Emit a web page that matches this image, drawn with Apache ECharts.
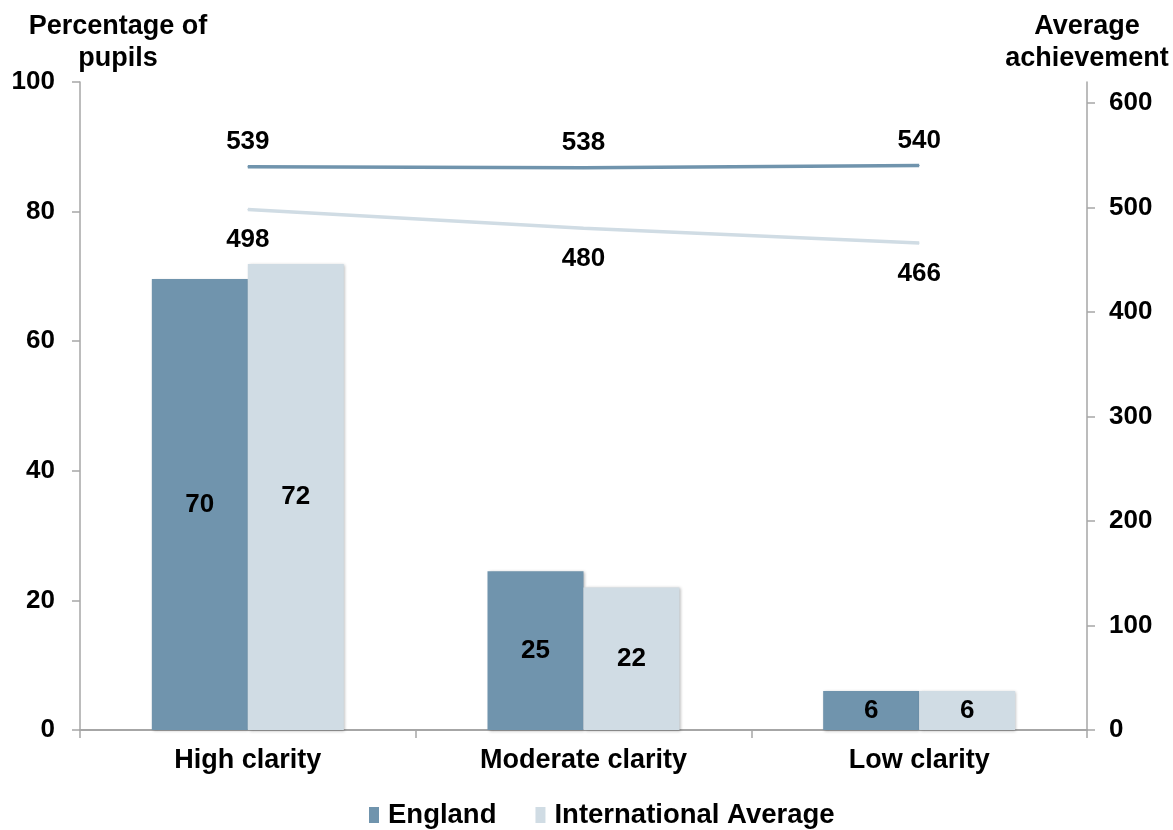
<!DOCTYPE html>
<html>
<head>
<meta charset="utf-8">
<script src="https://cdn.jsdelivr.net/npm/echarts@6/dist/echarts.min.js"></script>
<style>html,body{margin:0;padding:0;background:#fff}#c{width:1173px;height:830px}</style>
</head>
<body>
<div id="c"></div>
<script>
const categories = ['High clarity', 'Moderate clarity', 'Low clarity'];
const englandPct = [69.6, 24.5, 6];
const intlPct = [71.9, 22, 6];
const englandAch = [539, 538, 540];
const intlAch = [498, 480, 466];
const seriesNames = ['England', 'International Average'];

const FONT = '"Liberation Sans", Arial, sans-serif';
const axisGray = '#a6a6a6';
const cEng = '#7094ad';
const cInt = '#d0dce4';
const roundFmt = p => String(Math.round(p.value));

const chart = echarts.init(document.getElementById('c'));
chart.setOption({
  animation: false,
  textStyle: { fontFamily: FONT, fontWeight: 'bold', color: '#000' },
  grid: { left: 80, right: 86, top: 82, bottom: 100, containLabel: false, outerBoundsMode: 'none' },
  legend: {
    data: seriesNames,
    bottom: -4,
    left: 364,
    icon: 'rect',
    itemWidth: 10,
    itemHeight: 16,
    itemGap: 39,
    textStyle: { fontFamily: FONT, fontWeight: 'bold', fontSize: 27.5, color: '#000', padding: [0, 0, 0, 4] }
  },
  xAxis: {
    type: 'category',
    data: categories,
    axisLine: { lineStyle: { color: axisGray, width: 2 } },
    axisTick: { show: true, length: 8, lineStyle: { color: axisGray, width: 1.5 } },
    axisLabel: { fontFamily: FONT, fontWeight: 'bold', fontSize: 27, color: '#000', margin: 17 }
  },
  yAxis: [
    {
      type: 'value', min: 0, max: 100, interval: 20,
      name: 'Percentage of\npupils',
      nameLocation: 'end',
      nameGap: 7,
      nameMoveOverlap: false,
      nameTextStyle: { fontFamily: FONT, fontWeight: 'bold', fontSize: 27, color: '#000', lineHeight: 32, align: 'center', padding: [0, 0, 0, 76] },
      axisLine: { show: true, lineStyle: { color: axisGray, width: 1.5 } },
      axisTick: { show: true, length: 8, lineStyle: { color: axisGray, width: 1.5 } },
      splitLine: { show: false },
      axisLabel: { fontFamily: FONT, fontWeight: 'bold', fontSize: 26, color: '#000', margin: 25 }
    },
    {
      type: 'value', min: 0, max: 620, interval: 100,
      name: 'Average\nachievement',
      nameLocation: 'end',
      nameGap: 7,
      nameMoveOverlap: false,
      nameTextStyle: { fontFamily: FONT, fontWeight: 'bold', fontSize: 27, color: '#000', lineHeight: 32, align: 'center' },
      axisLine: { show: true, lineStyle: { color: axisGray, width: 1.5 } },
      axisTick: { show: true, length: 8, lineStyle: { color: axisGray, width: 1.5 } },
      splitLine: { show: false },
      axisLabel: { fontFamily: FONT, fontWeight: 'bold', fontSize: 26, color: '#000', margin: 22 }
    }
  ],
  series: [
    {
      name: seriesNames[0], type: 'bar', data: englandPct, barWidth: 96, barGap: '0%',
      itemStyle: { color: cEng, shadowBlur: 3, shadowColor: 'rgba(0,0,0,0.3)', shadowOffsetX: 1, shadowOffsetY: 1 },
      label: { show: true, position: 'inside', formatter: roundFmt, fontFamily: FONT, fontWeight: 'bold', fontSize: 26, color: '#000' }
    },
    {
      name: seriesNames[1], type: 'bar', data: intlPct, barWidth: 96,
      itemStyle: { color: cInt, shadowBlur: 3, shadowColor: 'rgba(0,0,0,0.3)', shadowOffsetX: 1, shadowOffsetY: 1 },
      label: { show: true, position: 'inside', formatter: roundFmt, fontFamily: FONT, fontWeight: 'bold', fontSize: 26, color: '#000' }
    },
    {
      name: 'England achievement', type: 'line', yAxisIndex: 1, data: englandAch,
      symbol: 'circle', showSymbol: true, symbolSize: 1, z: 5,
      lineStyle: { color: cEng, width: 3.5 }, itemStyle: { color: cEng },
      label: { show: true, position: 'top', distance: 11, fontFamily: FONT, fontWeight: 'bold', fontSize: 26, color: '#000' }
    },
    {
      name: 'International achievement', type: 'line', yAxisIndex: 1, data: intlAch,
      symbol: 'circle', showSymbol: true, symbolSize: 1, z: 5,
      lineStyle: { color: cInt, width: 3.5 }, itemStyle: { color: cInt },
      label: { show: true, position: 'bottom', distance: 17, fontFamily: FONT, fontWeight: 'bold', fontSize: 26, color: '#000' }
    }
  ]
});
</script>
</body>
</html>
